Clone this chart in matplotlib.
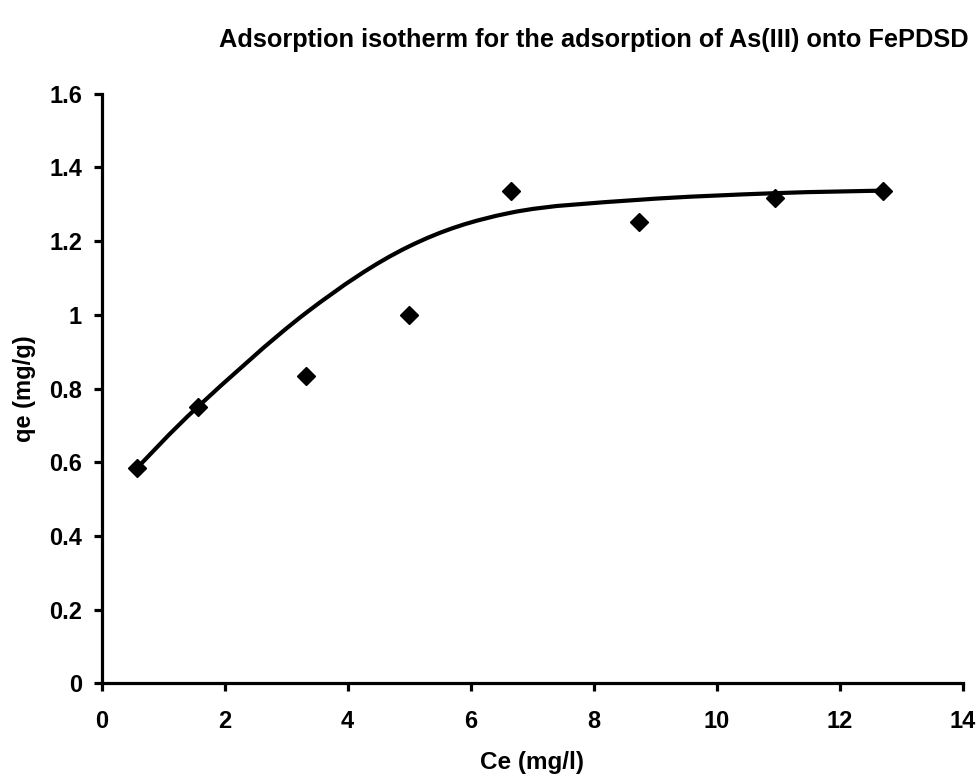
import matplotlib
matplotlib.use("Agg")
import matplotlib.pyplot as plt
from matplotlib.path import Path
from matplotlib.patches import PathPatch

plt.rcParams['font.family'] = ['Liberation Sans', 'DejaVu Sans']
plt.rcParams['font.weight'] = 'bold'

# measured equilibrium data
ce = [0.57, 1.57, 3.33, 4.99, 6.65, 8.73, 10.94, 12.70]
qe = [0.583, 0.751, 0.835, 1.000, 1.336, 1.251, 1.316, 1.336]
# fitted isotherm values at the same Ce
qe_fit = [0.583, 0.751, 1.006, 1.185, 1.277, 1.312, 1.330, 1.337]


def smooth_path(xs, ys):
    # Excel-style smoothed line: cubic Bezier segments through every point
    pts = list(zip(xs, ys))
    n = len(pts)
    verts = [pts[0]]
    codes = [Path.MOVETO]
    for i in range(n - 1):
        p0 = pts[i - 1] if i > 0 else pts[i]
        p1 = pts[i]
        p2 = pts[i + 1]
        p3 = pts[i + 2] if i + 2 < n else pts[i + 1]
        c1 = (p1[0] + (p2[0] - p0[0]) / 6, p1[1] + (p2[1] - p0[1]) / 6)
        c2 = (p2[0] - (p3[0] - p1[0]) / 6, p2[1] - (p3[1] - p1[1]) / 6)
        verts += [c1, c2, p2]
        codes += [Path.CURVE4] * 3
    return Path(verts, codes)


fig = plt.figure(figsize=(9.8, 7.79), dpi=100)
ax = fig.add_axes([101.5 / 980, 1 - 683.3 / 779, (963 - 101.5) / 980, (683.3 - 93.7) / 779])

ax.add_patch(PathPatch(smooth_path(ce, qe_fit), facecolor='none', edgecolor='black', lw=3, zorder=2))
ax.plot(ce, qe, linestyle='none', marker='D', ms=9, color='black', zorder=3)

ax.set_xlim(0, 14)
ax.set_ylim(0, 1.6)
ax.set_xticks(range(0, 15, 2))
ax.set_yticks([0, 0.2, 0.4, 0.6, 0.8, 1, 1.2, 1.4, 1.6])
ax.set_yticklabels(['0', '0.2', '0.4', '0.6', '0.8', '1', '1.2', '1.4', '1.6'])

for side in ['top', 'right']:
    ax.spines[side].set_visible(False)
for side in ['left', 'bottom']:
    ax.spines[side].set_linewidth(2.3)
ax.tick_params(width=2.3, length=6, labelsize=17)
ax.tick_params(axis='x', pad=13)
ax.tick_params(axis='y', pad=8)
for lbl in ax.get_xticklabels() + ax.get_yticklabels():
    lbl.set_fontweight('bold')

fig.text(531.5 / 980, 1 - 769 / 779, 'Ce (mg/l)', ha='center', va='baseline',
         fontsize=17.5, fontweight='bold')
fig.text(24 / 980, 1 - 388.5 / 779, 'qe (mg/g)', ha='center', va='center', rotation=90,
         fontsize=17, fontweight='bold')
fig.text(594 / 980, 1 - 47 / 779, 'Adsorption isotherm for the adsorption of As(III) onto FePDSD',
         ha='center', va='baseline', fontsize=18.3, fontweight='bold')

fig.savefig('out.png', dpi=100)
